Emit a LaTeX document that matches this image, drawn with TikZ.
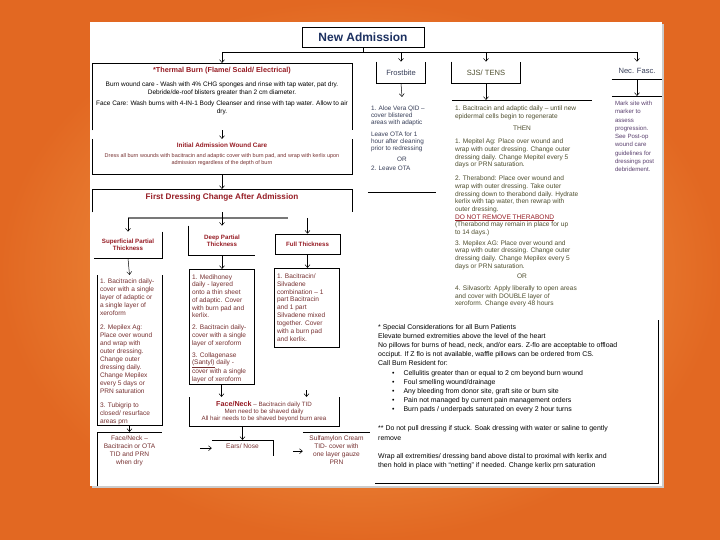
\documentclass[tikz,border=0pt]{standalone}
\usepackage{fontspec}
\setmainfont{Liberation Sans}
\usepackage{xcolor}
\usetikzlibrary{positioning, arrows.meta, calc}
\definecolor{bgorange}{RGB}{226,104,34}
\definecolor{bglight}{RGB}{247,172,86}
\definecolor{admblue}{RGB}{28,48,96}
\definecolor{burnred}{RGB}{150,28,36}
\definecolor{burnbody}{RGB}{118,48,48}
\definecolor{frostgrey}{RGB}{55,62,88}
\definecolor{sjsolive}{RGB}{78,78,46}
\definecolor{necpurple}{RGB}{92,66,112}
\definecolor{forkgrey}{RGB}{120,120,120}
\newcommand{\cardfont}{\fontsize{6.6}{8}\selectfont}
\newcommand{\spectxt}{\fontsize{6.95}{9.2}\selectfont}

\begin{document}
\begin{tikzpicture}[
    x=1bp, y=-1bp,
    every node/.style={font=\cardfont},
    box/.style={line width=0.6pt, align=center, inner sep=1.5bp},
    card/.style={inner sep=3bp, anchor=north},
    head/.style={font=\fontsize{6.2}{7.4}\selectfont\bfseries, text=burnred},
    edge/.style={line width=0.6pt},
    arr/.style={-{Straight Barb[length=3bp,width=5bp]}, line width=0.5pt},
  ]
  \useasboundingbox (0,0) rectangle (720,540);

  % ============ BACKGROUND ============
  \shade[inner color=bglight, outer color=bgorange] (0,0) rectangle (720,540);
  \fill[black!20] (92,24) rectangle (664,488);
  \fill[white] (90,22) rectangle (662,486);

  % ============ NEW ADMISSION ============
  \node[box, draw, minimum width=122bp, minimum height=20bp,
        font=\fontsize{12}{14}\selectfont\bfseries, text=admblue]
    (na) at (363,37) {New Admission};
  \coordinate (bus) at (363,52);

  % ============ THERMAL COLUMN ============
  \node[card, inner xsep=1bp] (thermal) at (222,63) {%
    \begin{minipage}[t][61bp][t]{258bp}\centering\fontsize{6.5}{8}\selectfont
    \vspace*{1bp}{\fontsize{7.3}{8.5}\selectfont\bfseries\color{burnred}*Thermal Burn (Flame/ Scald/ Electrical)}\\[6bp]
    Burn wound care - Wash with 4\% CHG sponges and rinse with tap water, pat dry.\\
    Debride/de-roof blisters greater than 2 cm diameter.\\[3bp]
    Face Care: Wash burns with 4-IN-1 Body Cleanser and rinse with tap water. Allow to air\\
    dry.
    \end{minipage}
  };
  \draw[edge] (thermal.south west) -- (thermal.north west) -- (thermal.north east) -- (thermal.south east);

  \node[card] (initial) at (222,139) {%
    \begin{minipage}[t][29bp][t]{254bp}\centering\color{burnbody}\fontsize{5.5}{7.6}\selectfont
    \vspace*{1bp}{\fontsize{6.4}{7.6}\selectfont\bfseries\color{burnred}Initial Admission Wound Care}\\[2bp]
    Dress all burn wounds with bacitracin and adaptic cover with burn pad, and wrap with kerlix upon\\
    admission regardless of the depth of burn
    \end{minipage}
  };
  \draw[edge] (initial.north west) -- (initial.south west) -- (initial.south east) -- (initial.north east);

  \node[card] (first) at (222,189) {%
    \begin{minipage}[t][17bp][t]{254bp}\centering
    \vspace*{1bp}{\fontsize{8.2}{9.5}\selectfont\bfseries\color{burnred}First Dressing Change After Admission}
    \end{minipage}
  };
  \draw[edge] (first.south west) -- (first.north west) -- (first.north east) -- (first.south east);

  % depth boxes
  \node[box, head, minimum width=68bp, minimum height=26bp] (sup) at (128,245)
    {Superficial Partial\\Thickness};
  \node[box, head, minimum width=66bp, minimum height=29bp] (deep) at (222,240.5)
    {Deep Partial\\Thickness};
  \node[box, head, draw, minimum width=65bp, minimum height=20bp] (full) at (307.5,244)
    {Full Thickness};
  \draw[edge] (sup.north east) -- (sup.south east) -- (sup.south west);
  \draw[edge] (deep.north west) -- (deep.south west) -- (deep.south east);

  \coordinate (fork) at (222,218);
  \draw[forkgrey, line width=1.3pt] (sup.north |- fork) -- ($(full.north |- fork)+(-20,0)$);
  \draw[arr] (first.south) -- (deep.north);
  \draw[arr] (sup.north |- fork) -- (sup.north);
  \draw[arr] (full.north |- fork) -- (full.north);

  % dressing cards
  \node[card] (supd) at (129.5,275) {%
    \begin{minipage}[t][144bp][t]{59bp}\color{burnbody}
    \vspace*{1bp}1. Bacitracin daily-\\
    cover with a single\\
    layer of adaptic or\\
    a single layer of\\
    xeroform\\[6bp]
    2. Mepilex Ag:\\
    Place over wound\\
    and wrap with\\
    outer dressing.\\
    Change outer\\
    dressing daily.\\
    Change Mepilex\\
    every 5 days or\\
    PRN saturation\\[6bp]
    3. Tubigrip to\\
    closed/ resurface\\
    areas prn
    \end{minipage}
  };
  \draw[edge] (supd.north west) -- (supd.south west) -- (supd.south east) -- (supd.north east);

  \node[card, draw, line width=0.6pt] (deepd) at (221.5,269) {%
    \begin{minipage}[t][109bp][t]{59bp}\color{burnbody}\fontsize{6.6}{7.8}\selectfont
    \vspace*{2bp}1. Medihoney\\
    daily - layered\\
    onto a thin sheet\\
    of adaptic. Cover\\
    with burn pad and\\
    kerlix.\\[4bp]
    2. Bacitracin daily-\\
    cover with a single\\
    layer of xeroform\\[4bp]
    3. Collagenase\\
    \underline{(Santyl)} daily -\\
    cover with a single\\
    layer of xeroform
    \end{minipage}
  };

  \node[card, draw, line width=0.6pt] (fulld) at (306.5,268) {%
    \begin{minipage}[t][73bp][t]{59bp}\color{burnbody}
    \vspace*{2bp}1. Bacitracin/\\
    Silvadene\\
    combination -- 1\\
    part Bacitracin\\
    and 1 part\\
    Silvadene mixed\\
    together. Cover\\
    with a burn pad\\
    and kerlix.
    \end{minipage}
  };

  \draw[arr] (sup.south) -- (supd.north);
  \draw[arr] (deep.south) -- (deep.south |- deepd.north);
  \draw[arr] (full.south) -- (full.south |- fulld.north);

  % face / neck
  \node[card] (fn) at (264,397) {%
    \begin{minipage}[t][23bp][t]{144bp}\centering\color{burnbody}\fontsize{6.2}{7}\selectfont
    \vspace*{1bp}{\fontsize{7.2}{8}\selectfont\bfseries\color{burnred}Face/Neck} -- Bacitracin daily TID\\
    Men need to be shaved daily\\
    All hair needs to be shaved beyond burn area
    \end{minipage}
  };
  \draw[edge] (fn.north west) -- (fn.south west) -- (fn.south east) -- (fn.north east);

  \node[card] (fnl) at (129.5,432) {%
    \begin{minipage}[t][48bp][t]{59bp}\centering\color{burnbody}
    \vspace*{1bp}Face/Neck --\\
    Bacitracin or OTA\\
    TID and PRN\\
    when dry
    \end{minipage}
  };
  \draw[edge] (fnl.south west) -- (fnl.north west) -- (fnl.north east);

  \node[card] (ears) at (242.5,440) {%
    \begin{minipage}[t][10bp][t]{55bp}\centering\color{burnbody}
    \vspace*{1bp}Ears/ Nose
    \end{minipage}
  };
  \draw[edge] (ears.north west) -- (ears.north east) -- (ears.south east);

  \node[card] (sulf) at (336.5,432) {%
    \begin{minipage}[t][32bp][t]{61bp}\centering\color{burnbody}
    \vspace*{1bp}Sulfamylon Cream\\
    TID- cover with\\
    one layer gauze\\
    PRN
    \end{minipage}
  };
  \draw[edge] (sulf.north west) -- (sulf.north east);

  \draw[arr] (supd.south) -- (fnl.north);
  \draw[arr] (deepd.south) -- (deepd.south |- fn.north);
  \draw[arr] ($(fn.north -| fulld.south)+(0,-7)$) -- (fn.north -| fulld.south);
  \draw[arr] (ears.north |- fn.south) -- (ears.north);
  \draw[arr] ($(ears.west)+(-12,0)$) -- (ears.west);
  \draw[arr] ($(sulf.west)+(-10,0)$) -- (sulf.west);

  % ============ FROSTBITE ============
  \node[box, minimum width=48bp, minimum height=21bp,
        font=\fontsize{7.6}{9}\selectfont, text=frostgrey] (frost) at (401,72.5) {Frostbite};
  \draw[edge] (frost.north west) -- (frost.south west) -- (frost.south east) -- (frost.north east);

  \node[card] (frostd) at (402,97) {%
    \begin{minipage}[t][89bp][t]{62bp}\color{frostgrey}\fontsize{6.4}{7}\selectfont
    \vspace*{6bp}1. Aloe Vera QID --\\
    cover blistered\\
    areas with adaptic\\[5bp]
    Leave OTA for 1\\
    hour after cleaning\\
    prior to redressing\\[4bp]
    \centerline{OR}\\[2bp]
    2. Leave OTA
    \end{minipage}
  };
  \draw[edge] (frostd.south west) -- (frostd.south east);

  % ============ SJS / TENS ============
  \node[box, minimum width=68bp, minimum height=21bp,
        font=\fontsize{7.6}{9}\selectfont, text=sjsolive] (sjs) at (486,72.5) {SJS/ TENS};
  \draw[edge] (sjs.north west) -- (sjs.south west) -- (sjs.south east) -- (sjs.north east);

  \node[card] (sjsd) at (522,100) {%
    \begin{minipage}[t][204bp][t]{134bp}\color{sjsolive}\fontsize{6.6}{7.7}\selectfont
    \vspace*{3bp}1. Bacitracin and adaptic daily -- until new\\
    epidermal cells begin to regenerate\\[4bp]
    \centerline{THEN}\\[6bp]
    1. Mepitel Ag: Place over wound and\\
    wrap with outer dressing. Change outer\\
    dressing daily. Change Mepitel every 5\\
    days or PRN saturation.\\[6bp]
    2. Therabond: Place over wound and\\
    wrap with outer dressing. Take outer\\
    dressing down to therabond daily. Hydrate\\
    kerlix with tap water, then rewrap with\\
    outer dressing.\\
    {\color{burnred}\underline{DO NOT REMOVE THERABOND}}\\
    (Therabond may remain in place for up\\
    to 14 days.)\\[3bp]
    3. Mepilex AG: Place over wound and\\
    wrap with outer dressing. Change outer\\
    dressing daily. Change Mepilex every 5\\
    days or PRN saturation.\\[3bp]
    \centerline{OR}\\[4bp]
    4. Silvasorb: Apply liberally to open areas\\
    and cover with DOUBLE layer of\\
    xeroform. Change every 48 hours
    \end{minipage}
  };
  \draw[edge] (sjsd.north west) -- (sjsd.north east);

  % ============ NEC. FASC. ============
  \node[box, minimum width=50bp, minimum height=17bp,
        font=\fontsize{7.6}{9}\selectfont, text=frostgrey] (nec) at (637,70.5) {Nec. Fasc.};
  \draw[edge] (nec.south west) -- (nec.south east);

  \node[card] (necd) at (637,96) {%
    \begin{minipage}[t][78bp][t]{44bp}\color{necpurple}\fontsize{6.1}{8.3}\selectfont
    \vspace*{2bp}Mark site with\\
    marker to\\
    assess\\
    progression.\\
    See Post-op\\
    wound care\\
    guidelines for\\
    dressings post\\
    debridement.
    \end{minipage}
  };
  \draw[edge] (necd.north west) -- (necd.north east);

  \draw[arr] (na.south) -- (bus) -| (thermal.north);
  \draw[arr] (bus) -| (frost.north);
  \draw[arr] (bus) -| (sjs.north);
  \draw[arr] (bus) -| (nec.north);
  \draw[arr] (thermal.south) -- (initial.north);
  \draw[arr] (initial.south) -- (first.north);
  \draw[arr] (frost.south) -- (frostd.north);
  \draw[arr] (sjs.south) -- (sjs.south |- sjsd.north);
  \draw[arr] (nec.south) -- (necd.north);

  % ============ SPECIAL CONSIDERATIONS ============
  \node[card, anchor=north west] (spec) at (375,320) {%
    \begin{minipage}[t][157bp][t]{277bp}\spectxt
    \vspace*{1bp}* Special Considerations for all Burn Patients\\
    Elevate burned extremities above the level of the heart\\
    No pillows for burns of head, neck, and/or ears. Z-flo are acceptable to offload\\
    occiput. If Z flo is not available, waffle pillows can be ordered from CS.\\
    Call Burn Resident for:\\
    \hspace*{14bp}\textbullet\hspace{9bp}Cellulitis greater than or equal to 2 cm beyond burn wound\\
    \hspace*{14bp}\textbullet\hspace{9bp}Foul smelling wound/drainage\\
    \hspace*{14bp}\textbullet\hspace{9bp}Any bleeding from donor site, graft site or burn site\\
    \hspace*{14bp}\textbullet\hspace{9bp}Pain not managed by current pain management orders\\
    \hspace*{14bp}\textbullet\hspace{9bp}Burn pads / underpads saturated on every 2 hour turns\\[10bp]
    ** Do not pull dressing if stuck. Soak dressing with water or saline to gently\\
    remove\\[9bp]
    Wrap all extremities/ dressing band above distal to proximal with kerlix and\\
    then hold in place with ``netting'' if needed. Change kerlix prn saturation
    \end{minipage}
  };
  \draw[edge] (spec.north east) -- (spec.south east) -- (spec.south west);

\end{tikzpicture}
\end{document}
